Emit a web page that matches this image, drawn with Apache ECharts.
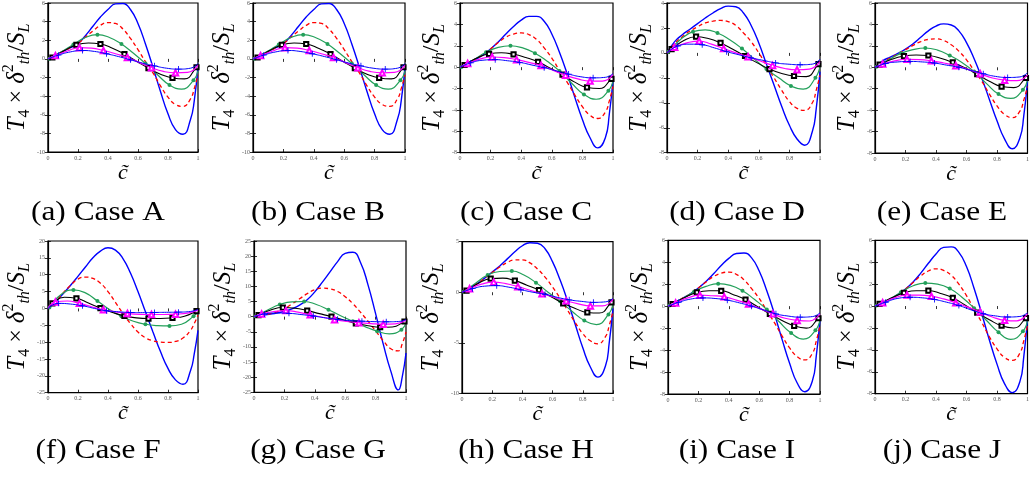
<!DOCTYPE html>
<html><head><meta charset="utf-8">
<script src="https://cdn.jsdelivr.net/npm/echarts@6/dist/echarts.min.js"></script>
<style>html,body{margin:0;padding:0;background:#fff}#c{width:1032px;height:479px}</style>
</head><body><div id="c"></div>
<script>
// shared x samples (curve grids; marker curves carry markers every other sample)
const XR = [0,0.05,0.1,0.15,0.2,0.25,0.3,0.35,0.4,0.45,0.5,0.55,0.6,0.65,0.7,0.75,0.8,0.85,0.9,0.95,0.975,1];
const XG = [0.01,0.09,0.17,0.25,0.33,0.41,0.49,0.57,0.65,0.73,0.81,0.89,0.97,1];
const XK = [0,0.03,0.11,0.19,0.27,0.35,0.43,0.51,0.59,0.67,0.75,0.83,0.91,0.99,1];
const XM = [0,0.05,0.13,0.21,0.29,0.37,0.45,0.53,0.61,0.69,0.77,0.85,0.93,1];
const XP = [0,0.07,0.15,0.23,0.31,0.39,0.47,0.55,0.63,0.71,0.79,0.87,0.95,1];
const MARK_G = [0.01,0.17,0.33,0.49,0.65,0.81,0.97];
const MARK_K = [0.03,0.19,0.35,0.51,0.67,0.83,0.99];
const MARK_M = [0.05,0.21,0.37,0.53,0.69,0.85];
const MARK_P = [0.07,0.23,0.39,0.55,0.71,0.87];

// Case A
const BLUE_A = [0,0.4,0.8,1.2,1.65,2.5,3.5,4.5,5.3,5.9,5.95,5.3,3.8,1.6,-0.9,-3.5,-5.9,-7.6,-8.1,-6.5,-4.5,-0.8];
const RED_A = [0,0.4,0.8,1.2,1.65,2.35,3.0,3.6,3.9,3.8,3.2,2.2,1.0,-0.3,-1.5,-2.9,-4.1,-4.9,-5.1,-4.3,-3.2,-1.7];
const GREEN_A = [0.02,0.75,1.55,2.3,2.6,2.3,1.6,0.6,-0.5,-1.7,-2.8,-3.25,-2.3,-1.3];
const BLACK_A = [0,0.15,0.9,1.5,1.7,1.6,1.15,0.5,-0.25,-1.0,-1.65,-2.05,-2.15,-0.9,-0.7];
const MAG_A = [0,0.35,0.85,1.2,1.15,0.9,0.55,0.15,-0.4,-0.95,-1.35,-1.5,-1.45,-0.7];
const PLUS_A = [0,0.4,0.75,0.9,0.8,0.55,0.25,-0.1,-0.45,-0.75,-1.0,-1.1,-1.0,-0.5];
// Case B
const BLUE_B = [0,0.4,0.8,1.2,1.65,2.5,3.5,4.5,5.3,5.9,5.95,5.3,3.8,1.6,-0.9,-3.5,-5.9,-7.6,-8.1,-6.5,-4.5,-0.8];
const RED_B = [0,0.4,0.8,1.2,1.65,2.35,3.0,3.6,3.9,3.8,3.2,2.2,1.0,-0.3,-1.5,-2.9,-4.1,-4.9,-5.1,-4.3,-3.2,-1.7];
const GREEN_B = [0.02,0.75,1.55,2.3,2.6,2.3,1.6,0.6,-0.5,-1.7,-2.8,-3.25,-2.3,-1.3];
const BLACK_B = [0,0.15,0.9,1.5,1.7,1.6,1.15,0.5,-0.25,-1.0,-1.65,-2.05,-2.15,-0.9,-0.7];
const MAG_B = [0,0.35,0.85,1.2,1.15,0.9,0.55,0.15,-0.4,-0.95,-1.35,-1.5,-1.45,-0.7];
const PLUS_B = [0,0.4,0.75,0.9,0.8,0.55,0.25,-0.1,-0.45,-0.75,-1.0,-1.1,-1.0,-0.5];
// Case C
const BLUE_C = [0,0.35,0.7,1.15,1.7,2.35,3.1,3.8,4.4,4.75,4.75,4.3,3.1,1.4,-0.6,-2.8,-4.9,-6.6,-7.55,-6.6,-4.5,-1.2];
const RED_C = [0,0.35,0.75,1.15,1.7,2.3,2.8,3.1,3.2,3.05,2.6,1.8,0.85,-0.3,-1.4,-2.6,-3.7,-4.5,-4.8,-4.2,-3.2,-1.8];
const GREEN_C = [0.02,0.7,1.4,1.85,2.0,1.8,1.3,0.55,-0.35,-1.5,-2.55,-3.0,-2.2,-1.2];
const BLACK_C = [0,0.2,0.85,1.25,1.35,1.2,0.9,0.5,-0.1,-0.7,-1.4,-1.9,-2.0,-1.1,-0.9];
const MAG_C = [0,0.35,0.75,0.95,0.9,0.7,0.45,0.15,-0.3,-0.75,-1.1,-1.3,-1.3,-0.7];
const PLUS_C = [0,0.4,0.65,0.7,0.6,0.45,0.2,-0.05,-0.35,-0.65,-0.9,-1.0,-0.95,-0.6];
// Case D
const BLUE_D = [0,0.9,1.45,1.9,2.35,2.8,3.2,3.55,3.75,3.7,3.2,2.2,0.8,-0.9,-2.6,-4.3,-5.8,-6.9,-7.4,-6.3,-4.5,-1.5];
const RED_D = [0,0.75,1.3,1.75,2.1,2.4,2.55,2.6,2.5,2.2,1.6,0.9,0.0,-1.0,-2.0,-3.0,-3.9,-4.45,-4.6,-4.0,-3.0,-1.8];
const GREEN_D = [0.1,1.1,1.7,1.85,1.6,1.05,0.35,-0.5,-1.3,-2.0,-2.65,-2.9,-2.0,-1.0];
const BLACK_D = [0,0.3,1.0,1.3,1.15,0.8,0.3,-0.25,-0.8,-1.3,-1.65,-1.85,-1.9,-0.9,-0.8];
const MAG_D = [0,0.45,0.8,0.95,0.7,0.35,0.0,-0.3,-0.65,-1.0,-1.25,-1.35,-1.3,-0.7];
const PLUS_D = [0,0.55,0.7,0.65,0.4,0.1,-0.15,-0.4,-0.6,-0.8,-0.9,-0.95,-0.9,-0.5];
// Case E
const BLUE_E = [0,0.6,0.95,1.3,1.7,2.2,2.8,3.4,3.85,4.05,3.95,3.4,2.3,0.8,-1.0,-3.0,-5.0,-6.7,-7.6,-6.6,-4.6,-1.3];
const RED_E = [0,0.45,0.85,1.25,1.65,2.05,2.4,2.6,2.65,2.5,2.1,1.5,0.7,-0.3,-1.3,-2.5,-3.6,-4.4,-4.7,-4.1,-3.1,-1.8];
const GREEN_E = [0.05,0.7,1.3,1.65,1.8,1.6,1.1,0.45,-0.4,-1.5,-2.5,-2.9,-2.1,-1.2];
const BLACK_E = [0,0.25,0.75,1.05,1.15,1.1,0.85,0.45,-0.05,-0.65,-1.3,-1.8,-1.9,-1.0,-0.9];
const MAG_E = [0,0.3,0.6,0.75,0.72,0.6,0.4,0.15,-0.2,-0.6,-1.0,-1.2,-1.25,-0.7];
const PLUS_E = [0,0.35,0.5,0.55,0.5,0.4,0.2,0.0,-0.3,-0.6,-0.85,-0.95,-0.9,-0.5];
// Case F
const BLUE_F = [0,2.0,4.3,6.8,9.5,12.3,15.0,17.0,18.0,17.3,14.8,10.5,5.0,-1.0,-7.0,-12.8,-17.8,-21.2,-22.5,-18.5,-13.5,-6.5];
const RED_F = [0,2.0,4.5,6.8,8.7,9.3,8.9,7.5,5.0,1.8,-1.5,-4.5,-7.0,-8.7,-9.6,-10.0,-10.1,-9.8,-8.8,-6.5,-4.5,-2.0];
const GREEN_F = [0.3,4.2,5.5,4.6,2.2,-0.3,-2.3,-3.8,-4.7,-5.1,-5.2,-4.7,-2.3,-1.0];
const BLACK_F = [0,1.5,3.3,3.0,1.6,0.1,-1.2,-2.2,-2.8,-3.0,-3.0,-2.8,-2.3,-0.8,-0.5];
const MAG_F = [0,1.9,2.2,1.5,0.5,-0.4,-1.0,-1.5,-1.75,-1.8,-1.8,-1.7,-1.4,-0.5];
const PLUS_F = [0,1.5,1.3,0.8,0.0,-0.7,-1.0,-1.2,-1.25,-1.2,-1.15,-1.1,-0.9,-0.3];
// Case G
const BLUE_G = [0,0.4,0.8,1.2,1.8,2.6,3.8,5.6,8.2,11.4,14.8,18.2,20.9,21.3,18.0,10.5,1.0,-9.0,-18.0,-24.2,-20.0,-12.0];
const RED_G = [0,0.4,0.9,1.6,2.7,4.2,5.9,7.6,8.9,9.4,9.2,8.3,6.6,4.3,1.5,-1.5,-4.7,-7.9,-10.6,-11.3,-9.0,-5.0];
const GREEN_G = [0.1,2.2,4.0,4.9,5.0,4.0,2.3,0.3,-1.5,-3.3,-4.8,-5.7,-4.3,-2.0];
const BLACK_G = [0,0.5,2.2,3.0,2.8,2.0,1.0,0.0,-1.1,-2.2,-3.0,-3.5,-3.4,-1.6,-1.3];
const MAG_G = [0,0.9,1.7,2.0,1.5,0.6,-0.2,-1.0,-1.6,-2.0,-2.3,-2.5,-2.4,-1.2];
const PLUS_G = [0,0.9,1.2,1.1,0.7,0.2,-0.4,-0.9,-1.3,-1.5,-1.65,-1.7,-1.6,-1.0];
// Case H
const BLUE_H = [0,0.4,0.85,1.4,2.0,2.6,3.3,4.0,4.6,4.9,4.85,4.3,3.0,1.2,-0.9,-3.2,-5.5,-7.4,-8.4,-7.3,-5.0,-1.6];
const RED_H = [0,0.4,0.85,1.4,1.95,2.5,2.95,3.2,3.2,2.9,2.3,1.5,0.5,-0.6,-1.8,-3.0,-4.1,-4.8,-5.1,-4.4,-3.3,-1.9];
const GREEN_H = [0.05,0.9,1.7,2.05,2.1,1.7,0.95,0.0,-0.9,-1.9,-2.8,-3.2,-2.2,-1.2];
const BLACK_H = [0,0.15,0.9,1.35,1.4,1.15,0.7,0.2,-0.45,-1.1,-1.6,-2.0,-2.05,-1.0,-0.9];
const MAG_H = [0,0.35,0.8,1.0,0.85,0.55,0.2,-0.15,-0.5,-0.85,-1.15,-1.35,-1.35,-0.7];
const PLUS_H = [0,0.35,0.6,0.65,0.5,0.25,0.0,-0.2,-0.5,-0.75,-0.9,-1.0,-0.95,-0.6];
// Case I
const BLUE_I = [0,0.35,0.75,1.15,1.65,2.25,2.95,3.7,4.35,4.8,4.85,4.4,3.2,1.4,-0.7,-3.0,-5.2,-7.0,-7.8,-6.8,-4.6,-1.2];
const RED_I = [0,0.35,0.75,1.15,1.65,2.2,2.7,3.0,3.1,2.9,2.4,1.6,0.7,-0.4,-1.5,-2.7,-3.8,-4.6,-4.9,-4.3,-3.2,-1.8];
const GREEN_I = [0.05,0.65,1.3,1.8,2.05,1.9,1.4,0.6,-0.3,-1.4,-2.45,-3.0,-2.2,-1.2];
const BLACK_I = [0,0.2,0.8,1.25,1.4,1.4,1.05,0.6,-0.05,-0.7,-1.3,-1.8,-2.0,-1.1,-0.9];
const MAG_I = [0,0.3,0.75,1.0,0.95,0.85,0.55,0.2,-0.25,-0.7,-1.1,-1.3,-1.35,-0.7];
const PLUS_I = [0,0.35,0.65,0.75,0.7,0.55,0.3,0.0,-0.35,-0.7,-0.9,-1.0,-0.95,-0.6];
// Case J
const BLUE_J = [0,0.3,0.65,1.05,1.55,2.2,3.0,3.9,4.75,5.35,5.4,4.9,3.6,1.6,-0.7,-3.1,-5.3,-7.1,-7.9,-6.9,-4.7,-1.2];
const RED_J = [0,0.3,0.65,1.05,1.55,2.15,2.75,3.2,3.4,3.25,2.8,2.0,0.95,-0.3,-1.5,-2.8,-3.9,-4.7,-4.95,-4.3,-3.2,-1.8];
const GREEN_J = [0.05,0.6,1.25,1.85,2.1,2.0,1.6,0.8,-0.2,-1.3,-2.4,-3.05,-2.3,-1.2];
const BLACK_J = [0,0.2,0.75,1.2,1.4,1.4,1.15,0.75,0.1,-0.6,-1.25,-1.8,-2.0,-1.1,-0.9];
const MAG_J = [0,0.3,0.75,1.0,1.0,0.9,0.65,0.3,-0.1,-0.55,-1.0,-1.3,-1.35,-0.7];
const PLUS_J = [0,0.35,0.7,0.8,0.75,0.6,0.35,0.05,-0.35,-0.7,-0.9,-1.0,-0.95,-0.6];

// axis ticks per panel
const Y_MIN = [-10,-10,-8,-8,-8,-25,-25,-10,-8,-8];
const Y_MAX = [6,6,6,4,6,20,25,5,6,6];
const Y_STEP = [2,2,2,2,2,5,5,5,2,2];
const X_MIN = 0, X_MAX = 1, X_STEP = 0.2;
const CAPTIONS = ['(a) Case A','(b) Case B','(c) Case C','(d) Case D','(e) Case E',
                  '(f) Case F','(g) Case G','(h) Case H','(i) Case I','(j) Case J'];

const PANEL_DATA = [
  [BLUE_A,RED_A,GREEN_A,BLACK_A,MAG_A,PLUS_A],
  [BLUE_B,RED_B,GREEN_B,BLACK_B,MAG_B,PLUS_B],
  [BLUE_C,RED_C,GREEN_C,BLACK_C,MAG_C,PLUS_C],
  [BLUE_D,RED_D,GREEN_D,BLACK_D,MAG_D,PLUS_D],
  [BLUE_E,RED_E,GREEN_E,BLACK_E,MAG_E,PLUS_E],
  [BLUE_F,RED_F,GREEN_F,BLACK_F,MAG_F,PLUS_F],
  [BLUE_G,RED_G,GREEN_G,BLACK_G,MAG_G,PLUS_G],
  [BLUE_H,RED_H,GREEN_H,BLACK_H,MAG_H,PLUS_H],
  [BLUE_I,RED_I,GREEN_I,BLACK_I,MAG_I,PLUS_I],
  [BLUE_J,RED_J,GREEN_J,BLACK_J,MAG_J,PLUS_J]
];

// layout (px): left, top, width, height of each plot box
const LAYOUT = [
  [47,0,151,152],[253,0,152,152],[460,-1,153,153.7],[667,-2.4,153,155.1],[875,-1.3,153,154.3],
  [47,241,151,151.7],[254,241,152,151.3],[462,241.7,151,151.6],[668,240.3,152,153.7],[875,240.3,153,153.4]
];
const CAP_X = [98,318,526,737,942];
const CAP_Y = [213,451];

const SERIF = '"Liberation Serif","DejaVu Serif",serif';
const STYLES = [
  {xs:XR, color:'#0000ff', width:1.4, type:'solid', symbol:'none'},
  {xs:XR, color:'#ff0000', width:1.3, type:[4,3], symbol:'none'},
  {xs:XG, color:'#23a05a', width:1.2, type:'solid', symbol:'circle', size:4, marks:MARK_G},
  {xs:XK, color:'#000000', width:1.1, type:'solid', symbol:'emptyRect', size:4.2, marks:MARK_K},
  {xs:XM, color:'#ff00ff', width:1.2, type:'solid', symbol:'emptyTriangle', size:5.5, marks:MARK_M},
  {xs:XP, color:'#0000ff', width:1.0, type:'solid', symbol:'path://M4.3,0H5.7V4.3H10V5.7H5.7V10H4.3V5.7H0V4.3H4.3Z', size:6, marks:MARK_P}
];

const grids=[], xAxes=[], yAxes=[], series=[];
LAYOUT.forEach(([l,t,w,h], i) => {
  grids.push({left:l, top:t, width:w, height:h, show:true, borderColor:'#000', borderWidth:1.2, backgroundColor:'transparent'});
  const tick = {show:true, inside:true, length:3, lineStyle:{color:'#000', width:0.8}};
  xAxes.push({gridIndex:i, type:'value', min:X_MIN, max:X_MAX, interval:X_STEP, position:'bottom',
    axisLine:{show:true, onZero:false, lineStyle:{color:'#000', width:1.2}}, axisTick:tick,
    axisLabel:{fontSize:6, color:'#555', margin:3, fontFamily:SERIF}, splitLine:{show:false},
    name:'c\u0303', nameLocation:'middle', nameGap:9,
    nameTextStyle:{fontFamily:SERIF, fontStyle:'italic', fontSize:22, color:'#000'}});
  xAxes.push({gridIndex:i, type:'value', min:X_MIN, max:X_MAX, interval:X_STEP, position:'top',
    axisLine:{show:false}, axisTick:tick, axisLabel:{show:false}, splitLine:{show:false}});
  yAxes.push({gridIndex:i, type:'value', min:Y_MIN[i], max:Y_MAX[i], interval:Y_STEP[i], position:'left',
    axisLine:{show:true, onZero:false, lineStyle:{color:'#000', width:1.2}}, axisTick:tick,
    axisLabel:{fontSize:6, color:'#555', margin:3, fontFamily:SERIF}, splitLine:{show:false},
    name:'{t|T}{d|4}{n| \u00d7 }{t|\u03b4}{u|2}{s|th}{n|/}{t|S}{s|L}', nameLocation:'middle', nameGap:8,
    nameTextStyle:{fontFamily:SERIF, fontSize:24, color:'#000', rich:{
      t:{fontFamily:SERIF, fontStyle:'italic', fontSize:25, lineHeight:32, color:'#000'},
      n:{fontFamily:SERIF, fontSize:24, lineHeight:32, color:'#000'},
      d:{fontFamily:SERIF, fontSize:16, lineHeight:15, verticalAlign:'bottom', color:'#000'},
      s:{fontFamily:SERIF, fontStyle:'italic', fontSize:16, lineHeight:15, verticalAlign:'bottom', color:'#000'},
      u:{fontFamily:SERIF, fontSize:16, lineHeight:15, verticalAlign:'top', color:'#000'}
    }}});
  yAxes.push({gridIndex:i, type:'value', min:Y_MIN[i], max:Y_MAX[i], interval:Y_STEP[i], position:'right',
    axisLine:{show:false}, axisTick:tick, axisLabel:{show:false}, splitLine:{show:false}});
  PANEL_DATA[i].forEach((ys, k) => {
    const st = STYLES[k];
    const data = st.xs.map((x, j) => [x, ys[j]]);
    const s = {type:'line', xAxisIndex:2*i, yAxisIndex:2*i, data, smooth:0.5, animation:false,
      lineStyle:{color:st.color, width:st.width, type:st.type}, itemStyle:{color:st.color, borderColor:st.color, borderWidth:1},
      z: 2 + k};
    if (st.symbol === 'none') { s.symbol='none'; s.showSymbol=false; }
    else {
      s.symbol = st.symbol; s.showSymbol = true; s.showAllSymbol = true;
      const marks = st.marks, size = st.size;
      s.symbolSize = (v) => marks.some(m => Math.abs(m - v[0]) < 1e-6) ? size : 0;
      if (k === 5 || k === 2) s.itemStyle = {color:st.color, borderWidth:0};
    }
    series.push(s);
  });
});

const graphic = CAPTIONS.map((t, i) => ({
  type:'text', x:CAP_X[i % 5], y:CAP_Y[Math.floor(i / 5)], scaleX:1.16,
  style:{text:t, font:'27px ' + SERIF, fill:'#000', textAlign:'center', textVerticalAlign:'middle'}
}));

const chart = echarts.init(document.getElementById('c'), null, {renderer:'canvas'});
chart.setOption({backgroundColor:'#fff', animation:false, grid:grids, xAxis:xAxes, yAxis:yAxes, series, graphic});
</script></body></html>
